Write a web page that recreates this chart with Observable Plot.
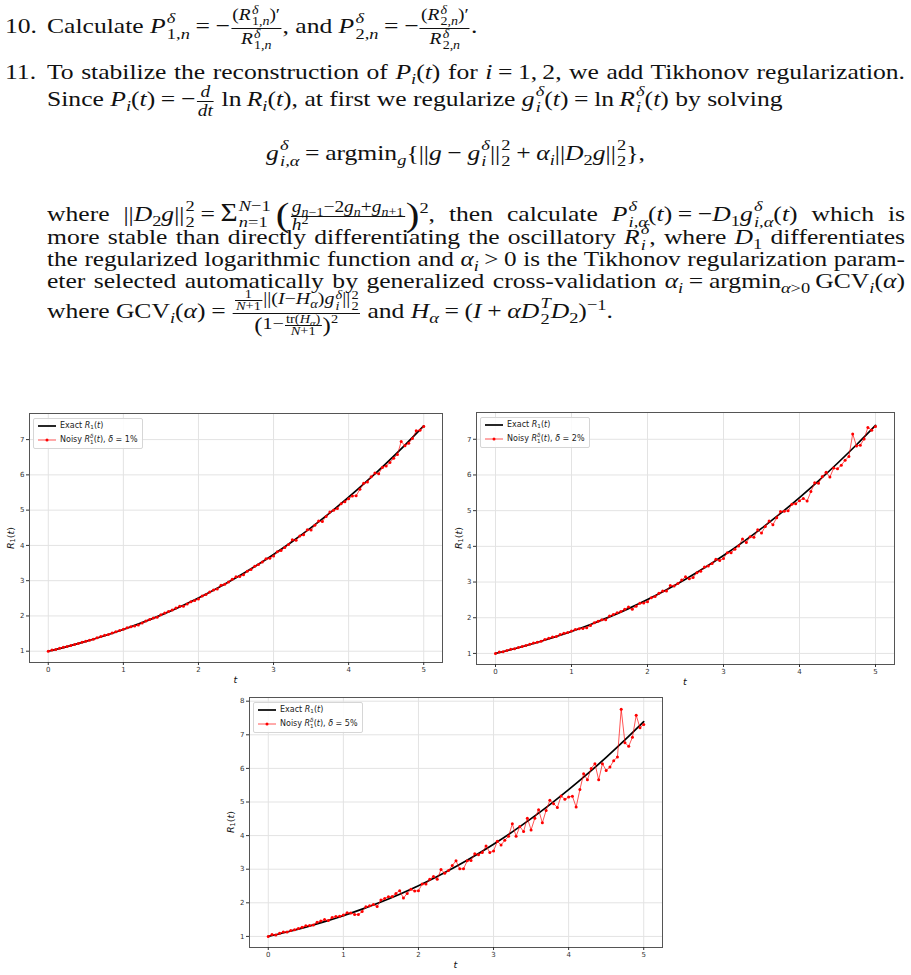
<!DOCTYPE html>
<html><head><meta charset="utf-8">
<script src="https://cdn.jsdelivr.net/npm/d3@7"></script>
<script src="https://cdn.jsdelivr.net/npm/@observablehq/plot@0.6"></script>
<style>
body{margin:0;background:#fff;}
#page{position:relative;width:911px;height:975px;overflow:hidden;font-family:"Liberation Serif",serif;color:#111;}
.ln{position:absolute;font-size:21.5px;line-height:24px;white-space:nowrap;transform-origin:0 0;}
.just{text-align:justify;text-align-last:justify;white-space:normal;height:24px;}
.ss{display:inline-block;font-size:.72em;line-height:1.05;vertical-align:-.4em;text-align:left;margin:-20px 0 -20px 1px;}
.ss>span{display:block}
.fr .ss{margin:0 0 0 1px;line-height:.95;}
.sp{font-size:.72em;vertical-align:.55em;line-height:0;}
.sb{font-size:.72em;vertical-align:-.3em;line-height:0;}
.fr{display:inline-block;font-size:.76em;vertical-align:middle;text-align:center;line-height:1.1;margin:-30px 1px;}
.fr>span{display:block;padding:0 1px}
.fr>span:last-child{border-top:1px solid #111}
.fr .fr{margin:0 1px;}
.tight{line-height:1;}
.cmp{line-height:.98;font-size:.78em;}
.cmp .fr{font-size:.72em;line-height:.92;}
.cmp .ss{line-height:.85;}
.op{padding:0 .22em;}
.fr .op{padding:0 .1em;}
.bp{font-size:1.6em;vertical-align:-.14em;line-height:0;}
.bp2{font-size:1.25em;vertical-align:-.1em;line-height:0;}
.chart{position:absolute;}
.leg{position:absolute;background:rgba(255,255,255,.85);border:1px solid #d6d6d6;border-radius:2px;font-family:"DejaVu Sans",sans-serif;font-size:8px;color:#222;}
.legrow{position:absolute;left:0;height:12px;line-height:12px;white-space:nowrap;}
.lab{position:absolute;font-family:"DejaVu Sans",sans-serif;font-size:9.5px;color:#111;white-space:nowrap;}
.lab i{font-style:oblique;}
.leg i{font-style:oblique;}
.lsub{font-size:.7em;vertical-align:-.25em;}
.lss{display:inline-block;font-size:.7em;line-height:1;vertical-align:-.35em;margin:-10px 0;}
.lss>span{display:block}
</style>
</head><body>
<div id="page"></div>
<script>
// ---------------- data ----------------
const xTicks = [0, 1, 2, 3, 4, 5];
const yTicks12 = [1, 2, 3, 4, 5, 6, 7];
const yTicks5 = [1, 2, 3, 4, 5, 6, 7, 8];

const tExact = [0,0.25,0.5,0.75,1,1.25,1.5,1.75,2,2.25,2.5,2.75,3,3.25,3.5,3.75,4,4.25,4.5,4.75,5];
const rExact = [1.000,1.132,1.278,1.439,1.616,1.811,2.024,2.256,2.509,2.784,3.080,3.400,3.743,4.111,4.504,4.922,5.366,5.835,6.328,6.846,7.389];

const tNoisy = [0,0.05,0.1,0.15,0.2,0.25,0.3,0.35,0.4,0.45,0.5,0.55,0.6,0.65,0.7,0.75,0.8,0.85,0.9,0.95,
1,1.05,1.1,1.15,1.2,1.25,1.3,1.35,1.4,1.45,1.5,1.55,1.6,1.65,1.7,1.75,1.8,1.85,1.9,1.95,
2,2.05,2.1,2.15,2.2,2.25,2.3,2.35,2.4,2.45,2.5,2.55,2.6,2.65,2.7,2.75,2.8,2.85,2.9,2.95,
3,3.05,3.1,3.15,3.2,3.25,3.3,3.35,3.4,3.45,3.5,3.55,3.6,3.65,3.7,3.75,3.8,3.85,3.9,3.95,
4,4.05,4.1,4.15,4.2,4.25,4.3,4.35,4.4,4.45,4.5,4.55,4.6,4.65,4.7,4.75,4.8,4.85,4.9,4.95,5];

const noisy1 = [1.000,1.031,1.049,1.081,1.110,1.131,1.163,1.191,1.221,1.252,
1.285,1.312,1.340,1.382,1.416,1.451,1.472,1.519,1.554,1.584,
1.621,1.664,1.693,1.715,1.746,1.797,1.858,1.897,1.939,1.962,
2.035,2.081,2.128,2.167,2.223,2.277,2.272,2.340,2.404,2.436,
2.480,2.562,2.605,2.677,2.738,2.767,2.871,2.896,2.959,3.037,
3.114,3.116,3.166,3.265,3.319,3.412,3.459,3.528,3.621,3.638,
3.703,3.818,3.854,3.941,4.024,4.159,4.146,4.266,4.299,4.443,
4.437,4.572,4.689,4.677,4.819,4.948,4.997,5.045,5.184,5.236,
5.322,5.400,5.410,5.589,5.759,5.800,5.945,6.051,6.034,6.210,
6.250,6.352,6.472,6.577,6.944,6.829,6.894,7.034,7.251,7.264,7.373];

const noisy2 = [1.000,1.037,1.047,1.085,1.115,1.131,1.166,1.193,1.225,1.257,
1.292,1.315,1.340,1.392,1.427,1.463,1.472,1.531,1.564,1.588,
1.626,1.674,1.695,1.698,1.722,1.783,1.863,1.900,1.942,1.944,
2.046,2.093,2.141,2.172,2.237,2.298,2.239,2.325,2.403,2.414,
2.450,2.562,2.594,2.683,2.748,2.750,2.901,2.892,2.959,3.055,
3.148,3.089,3.127,3.262,3.305,3.424,3.452,3.521,3.638,3.604,
3.662,3.821,3.820,3.921,4.013,4.207,4.105,4.267,4.254,4.462,
4.371,4.559,4.709,4.603,4.802,4.973,4.985,4.994,5.183,5.197,
5.279,5.342,5.270,5.534,5.779,5.765,5.959,6.073,5.941,6.192,
6.173,6.274,6.411,6.517,7.148,6.811,6.835,7.008,7.333,7.251,7.357];

const noisy5 = [1.000,1.055,1.040,1.095,1.130,1.130,1.175,1.200,1.235,1.270,
1.315,1.325,1.340,1.420,1.460,1.500,1.470,1.565,1.595,1.600,
1.640,1.705,1.700,1.650,1.650,1.740,1.880,1.910,1.950,1.890,
2.080,2.130,2.180,2.190,2.280,2.360,2.140,2.280,2.400,2.350,
2.360,2.560,2.560,2.700,2.780,2.700,2.990,2.880,2.960,3.110,
3.250,3.010,3.010,3.250,3.260,3.460,3.430,3.500,3.690,3.500,
3.540,3.830,3.720,3.860,3.980,4.350,3.980,4.270,4.120,4.520,
4.170,4.520,4.770,4.380,4.750,5.050,4.950,4.840,5.180,5.080,
5.150,5.170,4.850,5.370,5.840,5.660,6.000,6.140,5.660,6.140,
5.940,6.040,6.230,6.340,7.760,6.760,6.660,6.930,7.580,7.210,7.310];

const deltas = ["1%", "2%", "5%"];

// ---------------- text ----------------
const page = document.getElementById("page");
const SX = 1.19;
const I = s => `<i>${s}</i>`;
const ss = (a, b) => `<span class="ss"><span>${a}</span><span>${b}</span></span>`;
const sp = s => `<span class="sp">${s}</span>`;
const sb = s => `<span class="sb">${s}</span>`;
const fr = (n, d, c) => `<span class="fr${c ? " " + c : ""}"><span>${n}</span><span>${d}</span></span>`;
const op = s => `<span class="op">${s}</span>`;
const M = "\u2212";

function addLine(html, top, left, right, just) {
  const d = document.createElement("div");
  d.className = "ln";
  d.style.top = top + "px";
  d.style.left = left + "px";
  d.innerHTML = html;
  page.appendChild(d);
  if (just) {
    const T = right - left;
    const w = d.offsetWidth;
    const s = Math.min(SX, T / (w + 3));
    d.style.transform = `scaleX(${s})`;
    d.style.width = (T / s) + "px";
    d.classList.add("just");
  } else {
    d.style.transform = `scaleX(${SX})`;
  }
  return d;
}
const Rd = k => I("R") + ss(I("δ"), k + "," + I("n"));
addLine("10.", 14, 5);
addLine(`Calculate ${I("P")}${ss(I("δ"), "1," + I("n"))}${op("=")}${M}${fr("(" + Rd(1) + ")′", Rd(1))}, and ${I("P")}${ss(I("δ"), "2," + I("n"))}${op("=")}${M}${fr("(" + Rd(2) + ")′", Rd(2))}.`, 14, 47);
addLine("11.", 60, 5);
addLine(`To stabilize the reconstruction of ${I("P")}${sb(I("i"))}(${I("t")}) for ${I("i")}${op("=")}1,&#8201;2, we add Tikhonov regularization.`, 60, 47, 905, true);
addLine(`Since ${I("P")}${sb(I("i"))}(${I("t")})${op("=")}${M}${fr(I("d"), I("dt"))} ln&#8201;${I("R")}${sb(I("i"))}(${I("t")}), at first we regularize ${I("g")}${ss(I("δ"), I("i"))}(${I("t")})${op("=")}ln&#8201;${I("R")}${ss(I("δ"), I("i"))}(${I("t")}) by solving`, 87, 47);
const disp = addLine(`${I("g")}${ss(I("δ"), I("i,α"))}${op("=")}argmin${sb(I("g"))}{||${I("g")}${op(M)}${I("g")}${ss(I("δ"), I("i"))}||${ss("2", "2")}${op("+")}${I("α")}${sb(I("i"))}||${I("D")}${sb("2")}${I("g")}||${ss("2", "2")}},`, 141, 0);
disp.style.width = "911px";
disp.style.textAlign = "center";
disp.style.transformOrigin = "50% 0";
addLine(`where ||${I("D")}${sb("2")}${I("g")}||${ss("2", "2")}${op("=")}<span style="font-size:1.15em">Σ</span>${ss(I("N") + M + "1", I("n") + "=1")}&#8201;<span class="bp">(</span>${fr(I("g") + sb(I("n") + M + "1") + M + "2" + I("g") + sb(I("n")) + "+" + I("g") + sb(I("n") + "+1"), I("h") + sp("2"), "tight")}<span class="bp">)</span>${sp("2")}, then calculate ${I("P")}${ss(I("δ"), I("i,α"))}(${I("t")})${op("=")}${M}${I("D")}${sb("1")}${I("g")}${ss(I("δ"), I("i,α"))}(${I("t")}) which is`, 201, 47, 905, true);
addLine(`more stable than directly differentiating the oscillatory ${I("R")}${ss(I("δ"), I("i"))}, where ${I("D")}${sb("1")} differentiates`, 225, 47, 905, true);
addLine(`the regularized logarithmic function and ${I("α")}${sb(I("i"))}${op("&gt;")}0 is the Tikhonov regularization param-`, 247, 47, 905, true);
addLine(`eter selected automatically by generalized cross-validation ${I("α")}${sb(I("i"))}${op("=")}argmin${sb(I("α") + "&gt;0")}&#8201;GCV${sb(I("i"))}(${I("α")})`, 269, 47, 905, true);
addLine(`where GCV${sb(I("i"))}(${I("α")})${op("=")}${fr(fr("1", I("N") + "+1") + "||(" + I("I") + M + I("H") + sb(I("α")) + ")" + I("g") + ss(I("δ"), I("i")) + "||" + ss("2", "2"), '<span class="bp2">(</span>1' + M + fr("tr(" + I("H") + sb(I("α")) + ")", I("N") + "+1") + '<span class="bp2">)</span>' + sp("2"), "cmp")} and ${I("H")}${sb(I("α"))}${op("=")}(${I("I")}${op("+")}${I("α")}${I("D")}${ss(I("T"), "2")}${I("D")}${sb("2")})${sp(M + "1")}.`, 299, 47);

// ---------------- charts ----------------
function makeChart(cfg) {
  const {left, top, width, height, ml, mr, mt, mb, yDomain, yTicks, noisy, delta} = cfg;
  const exact = tExact.map((t, i) => ({t, r: rExact[i]}));
  const nd = tNoisy.map((t, i) => ({t, r: noisy[i]}));
  const fmt = d => String(d);
  const svg = Plot.plot({
    width, height,
    marginLeft: ml, marginRight: mr, marginTop: mt, marginBottom: mb,
    style: {fontFamily: "DejaVu Sans", fontSize: "7px", color: "#333", background: "transparent", overflow: "visible"},
    x: {domain: [-0.25, 5.25]},
    y: {domain: yDomain},
    marks: [
      Plot.gridX(xTicks, {stroke: "#e3e3e3", strokeOpacity: 1, strokeWidth: 1}),
      Plot.gridY(yTicks, {stroke: "#e3e3e3", strokeOpacity: 1, strokeWidth: 1}),
      Plot.line(exact, {x: "t", y: "r", stroke: "#000", strokeWidth: 1.7, curve: "catmull-rom"}),
      Plot.line(nd, {x: "t", y: "r", stroke: "#ff0000", strokeWidth: 0.9, strokeOpacity: 0.75}),
      Plot.dot(nd, {x: "t", y: "r", r: 1.5, fill: "#ff0000", stroke: null}),
      Plot.frame({stroke: "#555", strokeWidth: 1}),
      Plot.axisX(xTicks, {tickSize: 3, tickPadding: 2, label: null, stroke: "#333", fill: "#333", tickFormat: fmt}),
      Plot.axisY(yTicks, {tickSize: 3, tickPadding: 2, label: null, stroke: "#333", fill: "#333", tickFormat: fmt})
    ]
  });
  const wrap = document.createElement("div");
  wrap.className = "chart";
  wrap.style.left = left + "px";
  wrap.style.top = top + "px";
  wrap.appendChild(svg);
  page.appendChild(wrap);

  const axL = left + ml, axR = left + width - mr, axT = top + mt, axB = top + height - mb;
  const leg = document.createElement("div");
  leg.className = "leg";
  leg.style.left = (axL + 4) + "px";
  leg.style.top = (axT + 5) + "px";
  leg.style.width = "108px";
  leg.style.height = "29px";
  leg.innerHTML = `
    <div class="legrow" style="top:1px">
      <svg width="30" height="12" style="position:absolute;left:3px;top:0"><line x1="1" y1="6" x2="19" y2="6" stroke="#000" stroke-width="1.7"/></svg>
      <span style="position:absolute;left:26px">Exact <i>R</i><span class="lsub">1</span>(<i>t</i>)</span>
    </div>
    <div class="legrow" style="top:15px">
      <svg width="30" height="12" style="position:absolute;left:3px;top:0"><line x1="1" y1="6" x2="19" y2="6" stroke="#ff0000" stroke-opacity="0.75" stroke-width="0.9"/><circle cx="10" cy="6" r="1.5" fill="#ff0000"/></svg>
      <span style="position:absolute;left:26px">Noisy <i>R</i><span class="lss"><span><i>δ</i></span><span>1</span></span>(<i>t</i>), <i>δ</i> = ${delta}</span>
    </div>`;
  page.appendChild(leg);
  const xl = document.createElement("div");
  xl.className = "lab";
  xl.innerHTML = "<i>t</i>";
  xl.style.left = ((axL + axR) / 2 - 2) + "px";
  xl.style.top = (axB + 12) + "px";
  page.appendChild(xl);
  const yl = document.createElement("div");
  yl.className = "lab";
  yl.innerHTML = "<i>R</i><span class='lsub'>1</span>(<i>t</i>)";
  yl.style.left = (cfg.ylabX) + "px";
  yl.style.top = ((axT + axB) / 2) + "px";
  yl.style.transform = "translate(-50%,-50%) rotate(-90deg)";
  page.appendChild(yl);
}

makeChart({left: 0, top: 405, width: 455, height: 285, ml: 29, mr: 13, mt: 8, mb: 28,
  yDomain: [0.68, 7.74], yTicks: yTicks12, noisy: noisy1, delta: deltas[0], ylabX: 11});
makeChart({left: 455, top: 405, width: 456, height: 285, ml: 21, mr: 17, mt: 7, mb: 26,
  yDomain: [0.69, 7.75], yTicks: yTicks12, noisy: noisy2, delta: deltas[1], ylabX: 459});
makeChart({left: 220, top: 690, width: 460, height: 285, ml: 29, mr: 18, mt: 7, mb: 28,
  yDomain: [0.67, 8.11], yTicks: yTicks5, noisy: noisy5, delta: deltas[2], ylabX: 231});
</script>
</body></html>
